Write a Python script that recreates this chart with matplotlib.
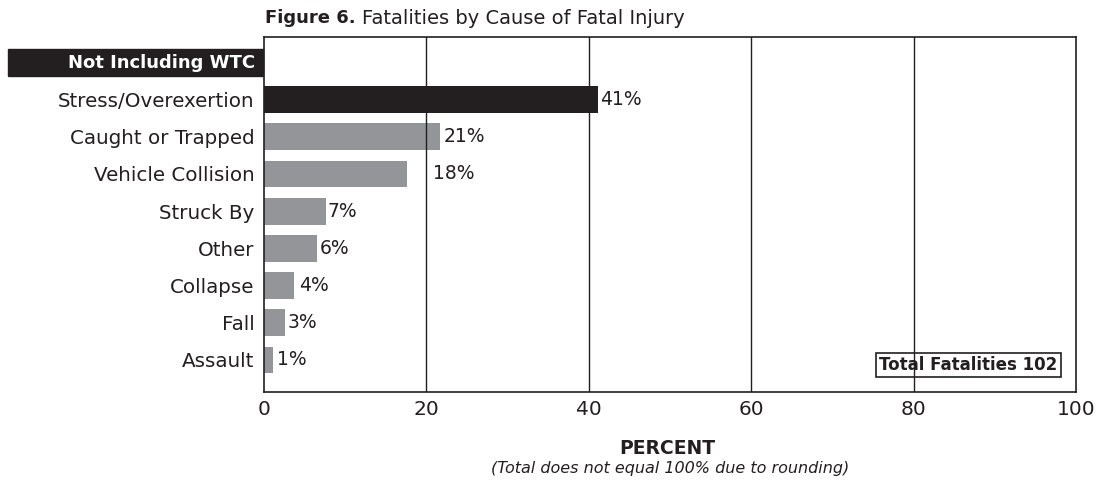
import matplotlib.pyplot as plt
from matplotlib.patches import Rectangle

# data
causes = ["Stress/Overexertion", "Caught or Trapped", "Vehicle Collision", "Struck By",
          "Other", "Collapse", "Fall", "Assault"]
percents = [41.1, 21.7, 17.6, 7.6, 6.5, 3.7, 2.6, 1.1]
labels = ["41%", "21%", "18%", "7%", "6%", "4%", "3%", "1%"]
ticks = [0, 20, 40, 60, 80, 100]
total = 102

dark = "#231f20"
gray = "#939598"
plt.rcParams['font.family'] = ['DejaVu Sans']

fig = plt.figure(figsize=(10.96, 4.83), dpi=100)
ax = fig.add_axes([264 / 1096, 1 - 392 / 483, 812 / 1096, 355 / 483])

# row 0 is the header row, bars start at row 1
rows = list(range(1, len(causes) + 1))
colors = [dark] + [gray] * (len(causes) - 1)
ax.barh(rows, percents, height=0.72, color=colors, zorder=1)

# label offsets in data units (the original places them unevenly)
offsets = [0.3, 0.4, 3.2, 0.2, 0.4, 0.6, 0.3, 0.5]
for r, p, lab, off in zip(rows, percents, labels, offsets):
    ax.text(p + off, r, lab, va="center", ha="left", fontsize=13.5, color=dark)

ax.set_xlim(0, 100)
ax.set_ylim(8.86, -0.68)
ax.set_xticks(ticks)
ax.set_xticklabels([str(t) for t in ticks], fontsize=14.5, color=dark)
ax.set_yticks(rows)
ax.set_yticklabels(causes, fontsize=14.3, color=dark)
ax.tick_params(length=0, pad=7)
ax.tick_params(axis="x", pad=6)
for t in ticks[1:-1]:
    ax.axvline(t, color=dark, lw=1.0, zorder=4)
for s in ax.spines.values():
    s.set_color(dark)
    s.set_linewidth(1.2)

# header block
fig.patches.append(Rectangle((8 / 1096, 1 - 76 / 483), 255 / 1096, 27 / 483,
                             transform=fig.transFigure, color=dark))
fig.text(255 / 1096, 1 - 63 / 483, "Not Including WTC", color="white", fontsize=13,
         fontweight="bold", ha="right", va="center")

# title
t1 = fig.text(265 / 1096, 1 - 18 / 483, "Figure 6.", fontsize=13, fontweight="bold",
              color=dark, va="center", ha="left")
fig.canvas.draw()
bb = t1.get_window_extent()
fig.text(bb.x1 / 1096 + 0.006, 1 - 18 / 483, "Fatalities by Cause of Fatal Injury",
         fontsize=14, color=dark, va="center", ha="left")

ax.text(0.9775, 0.076, f"Total Fatalities {total}", transform=ax.transAxes, ha="right",
        va="center", fontsize=12, fontweight="bold", color=dark, zorder=3,
        bbox=dict(boxstyle="square,pad=0.2", fc="none", ec=dark, lw=1.2))

fig.text(667 / 1096, 1 - 448 / 483, "PERCENT", fontsize=13.5, fontweight="bold",
         color=dark, ha="center", va="center")
fig.text(670 / 1096, 1 - 468 / 483, "(Total does not equal 100% due to rounding)",
         fontsize=11.5, style="italic", color=dark, ha="center", va="center")

fig.savefig("out.png", dpi=100)
